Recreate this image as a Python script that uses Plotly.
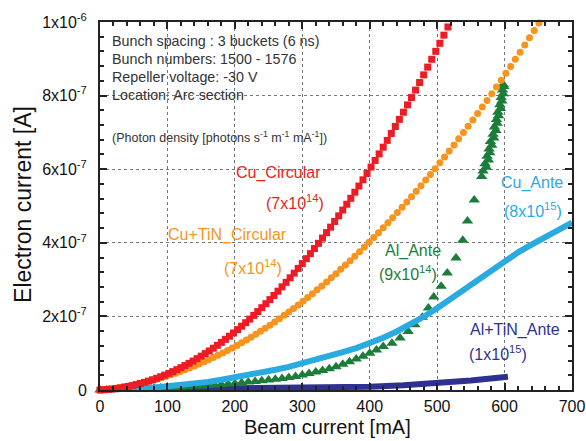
import plotly.graph_objects as go

# ---------------- data (y values in units of 1e-6 A) ----------------
cu_circ_x = list(range(0, 517, 6))
cu_circ_y = [0, 0.0006, 0.0015, 0.0026, 0.0040, 0.0056, 0.0075, 0.0096, 0.0120, 0.0147,
             0.0176, 0.0207, 0.0242, 0.0278, 0.0318, 0.0360, 0.0404, 0.0451, 0.0500, 0.0553,
             0.0607, 0.0664, 0.0724, 0.0786, 0.0851, 0.0919, 0.0989, 0.1061, 0.1136, 0.1214,
             0.1294, 0.1377, 0.1462, 0.1550, 0.1641, 0.1734, 0.1829, 0.1927, 0.2028, 0.2131,
             0.2237, 0.2345, 0.2456, 0.2569, 0.2685, 0.2804, 0.2925, 0.3049, 0.3175, 0.3304,
             0.3435, 0.3569, 0.3705, 0.3844, 0.3986, 0.4130, 0.4277, 0.4426, 0.4578, 0.4732,
             0.4889, 0.5048, 0.5210, 0.5375, 0.5542, 0.5712, 0.5884, 0.6059, 0.6236, 0.6416,
             0.6598, 0.6783, 0.6971, 0.7161, 0.7354, 0.7549, 0.7747, 0.7947, 0.8150, 0.8355,
             0.8563, 0.8774, 0.8987, 0.9203, 0.9421, 0.9642, 0.9865]

cutin_circ_x = list(range(0, 652, 7))
cutin_circ_y = [0, 0.0013, 0.0028, 0.0046, 0.0065, 0.0086, 0.0109, 0.0135, 0.0162, 0.0192,
                0.0223, 0.0257, 0.0293, 0.0330, 0.0370, 0.0412, 0.0456, 0.0501, 0.0549, 0.0599,
                0.0651, 0.0705, 0.0761, 0.0820, 0.0880, 0.0942, 0.1006, 0.1073, 0.1141, 0.1211,
                0.1284, 0.1358, 0.1435, 0.1513, 0.1594, 0.1677, 0.1761, 0.1848, 0.1937, 0.2028,
                0.2121, 0.2216, 0.2313, 0.2412, 0.2513, 0.2616, 0.2721, 0.2828, 0.2937, 0.3049,
                0.3162, 0.3278, 0.3395, 0.3514, 0.3636, 0.3760, 0.3885, 0.4013, 0.4143, 0.4274,
                0.4408, 0.4544, 0.4682, 0.4822, 0.4964, 0.5108, 0.5254, 0.5402, 0.5552, 0.5704,
                0.5859, 0.6015, 0.6173, 0.6334, 0.6496, 0.6661, 0.6827, 0.6996, 0.7166, 0.7339,
                0.7514, 0.7690, 0.7869, 0.8050, 0.8233, 0.8418, 0.8605, 0.8794, 0.8985, 0.9178,
                0.9373, 0.9570, 0.9770, 0.9971]

cu_ante_x = list(range(0, 701, 20))
cu_ante_y = [0, 0.001, 0.002, 0.004, 0.007, 0.010, 0.013, 0.017, 0.022, 0.028,
             0.034, 0.040, 0.047, 0.055, 0.063, 0.072, 0.082, 0.092, 0.103, 0.114,
             0.127, 0.142, 0.159, 0.178, 0.199, 0.222, 0.248, 0.274, 0.300, 0.325,
             0.350, 0.374, 0.395, 0.415, 0.435, 0.455]

al_ante_x = [0, 10, 20, 30, 40, 50, 60, 70, 80, 90, 100, 110, 120, 130, 140, 150, 160, 170,
             180, 190, 200, 210, 220, 230, 240, 250, 260, 270, 280, 290, 300, 310, 320, 330,
             340, 350, 360, 370, 380, 390, 400, 410, 420, 433, 445, 457, 467, 478, 487, 495,
             506, 515, 528, 538, 545, 555, 566, 568, 573, 571, 576, 574, 578, 577, 581, 579,
             584, 583, 587, 585, 589, 588, 591, 590, 594, 593, 596, 595, 598, 597, 599, 598]
al_ante_y = [0, 0.0003, 0.0007, 0.0012, 0.0018, 0.0024, 0.0031, 0.0039, 0.0046, 0.0053,
             0.0061, 0.0071, 0.0080, 0.0090, 0.0100, 0.0111, 0.0123, 0.0135, 0.0148, 0.0163,
             0.0180, 0.0197, 0.0215, 0.0233, 0.0252, 0.0272, 0.0293, 0.0315, 0.0341, 0.0370,
             0.0410, 0.0448, 0.0488, 0.0530, 0.0580, 0.0635, 0.0700, 0.0770, 0.0845, 0.0920,
             0.1000, 0.1090, 0.1180, 0.1270, 0.1410, 0.1590, 0.1770, 0.1980, 0.2230, 0.2530,
             0.2820, 0.3180, 0.3590, 0.4070, 0.4590, 0.5160, 0.5800, 0.5950, 0.6050, 0.6150,
             0.6250, 0.6350, 0.6450, 0.6550, 0.6650, 0.6750, 0.6850, 0.6950, 0.7050, 0.7150,
             0.7250, 0.7350, 0.7450, 0.7550, 0.7650, 0.7750, 0.7850, 0.7950, 0.8050, 0.8150,
             0.8250, 0.8300]

altin_ante_x = [0, 50, 100, 150, 200, 250, 300, 350, 400, 450, 500, 550, 605]
altin_ante_y = [0, 0.0008, 0.0015, 0.0022, 0.0030, 0.0040, 0.0050, 0.0068, 0.0090, 0.0130,
                0.0190, 0.0260, 0.0360]

y_tickvals = [0, 0.2, 0.4, 0.6, 0.8, 1.0]
y_ticktext = ["0", "2x10<sup>-7</sup>", "4x10<sup>-7</sup>", "6x10<sup>-7</sup>",
              "8x10<sup>-7</sup>", "1x10<sup>-6</sup>"]
x_tickvals = [0, 100, 200, 300, 400, 500, 600, 700]

info_lines = ["Bunch spacing : 3 buckets (6 ns)", "Bunch numbers: 1500 - 1576",
              "Repeller voltage: -30 V", "Location: Arc section"]
photon_note = "(Photon density [photons s<sup>-1</sup> m<sup>-1</sup> mA<sup>-1</sup>])"

RED = "#ED1C24"
ORANGE = "#F7941D"
GREEN = "#1B7D3A"
LBLUE = "#29ABE2"
DBLUE = "#2E3192"
FONT = "Liberation Sans, Arial, sans-serif"

fig = go.Figure()
fig.add_trace(go.Scatter(x=altin_ante_x, y=altin_ante_y, mode="lines",
                         line=dict(color=DBLUE, width=6), cliponaxis=False, name="Al+TiN_Ante"))
fig.add_trace(go.Scatter(x=al_ante_x, y=al_ante_y, mode="markers",
                         marker=dict(symbol="triangle-up", size=10, color=GREEN, line=dict(width=0)),
                         cliponaxis=False, name="Al_Ante"))
fig.add_trace(go.Scatter(x=cu_ante_x, y=cu_ante_y, mode="lines",
                         line=dict(color=LBLUE, width=6), cliponaxis=False, name="Cu_Ante"))
fig.add_trace(go.Scatter(x=cutin_circ_x, y=cutin_circ_y, mode="markers",
                         marker=dict(symbol="circle", size=7, color=ORANGE, line=dict(width=0)),
                         cliponaxis=False, name="Cu+TiN_Circular"))
fig.add_trace(go.Scatter(x=cu_circ_x, y=cu_circ_y, mode="markers",
                         marker=dict(symbol="square", size=7, color=RED, line=dict(width=0)),
                         cliponaxis=False, name="Cu_Circular"))

annotations = []
for i, t in enumerate(info_lines):
    annotations.append(dict(x=14.8, y=[0.948, 0.899, 0.851, 0.802][i], text=t, showarrow=False,
                            xanchor="left", yanchor="middle",
                            font=dict(family=FONT, size=14.3, color="#333333")))
annotations.append(dict(x=14.8, y=0.6875, text=photon_note, showarrow=False,
                        xanchor="left", yanchor="middle",
                        font=dict(family=FONT, size=12.5, color="#333333")))

labels = [
    ("Cu_Circular", 264.4, 0.589, RED),
    ("(7x10<sup>14</sup>)", 289.2, 0.512, RED),
    ("Cu+TiN_Circular", 189.8, 0.421, ORANGE),
    ("(7x10<sup>14</sup>)", 226.9, 0.335, ORANGE),
    ("Al_Ante", 464.2, 0.379, GREEN),
    ("(9x10<sup>14</sup>)", 456.8, 0.317, GREEN),
    ("Cu_Ante", 640.7, 0.562, LBLUE),
    ("(8x10<sup>15</sup>)", 642.1, 0.489, LBLUE),
    ("Al+TiN_Ante", 615.5, 0.163, DBLUE),
    ("(1x10<sup>15</sup>)", 590.2, 0.0997, DBLUE),
]
for t, x, y, c in labels:
    annotations.append(dict(x=x, y=y, text=t, showarrow=False, xanchor="center", yanchor="middle",
                            font=dict(family=FONT, size=16, color=c)))

annotations.append(dict(xref="paper", yref="paper", x=0.483, y=-0.1, text="Beam current [mA]",
                        showarrow=False, xanchor="center", yanchor="middle",
                        font=dict(family=FONT, size=20, color="#111111")))
annotations.append(dict(xref="paper", yref="paper", x=-0.163, y=0.503, text="Electron current [A]",
                        showarrow=False, xanchor="center", yanchor="middle", textangle=-90,
                        font=dict(family=FONT, size=23, color="#111111")))

axis_common = dict(showline=True, linecolor="#222222", linewidth=2, mirror="allticks",
                   ticks="inside", ticklen=7, tickwidth=1.5, tickcolor="#222222",
                   showgrid=True, gridcolor="#777777", gridwidth=1, griddash="dot",
                   zeroline=False, automargin=False,
                   tickfont=dict(family=FONT, size=16, color="#111111"))

fig.update_layout(
    width=586, height=441,
    margin=dict(l=100, r=14, t=22, b=51, autoexpand=False),
    paper_bgcolor="white", plot_bgcolor="white",
    showlegend=False,
    annotations=annotations,
    xaxis=dict(range=[0, 700], tickmode="array", tickvals=x_tickvals,
               minor=dict(dtick=20, tick0=0, ticks="inside", ticklen=4, tickcolor="#222222",
                          showgrid=False),
               ticklabelstandoff=1, **axis_common),
    yaxis=dict(range=[0, 1.0], tickmode="array", tickvals=y_tickvals, ticktext=y_ticktext,
               minor=dict(dtick=0.04, tick0=0, ticks="inside", ticklen=4, tickcolor="#222222",
                          showgrid=False),
               ticklabelstandoff=8, **axis_common),
)

# remove the default page margin so the figure fills the window exactly
fig.write_html("out.html", config={"displayModeBar": False},
               post_script="document.body.style.margin='0px';document.body.style.overflow='hidden';")
